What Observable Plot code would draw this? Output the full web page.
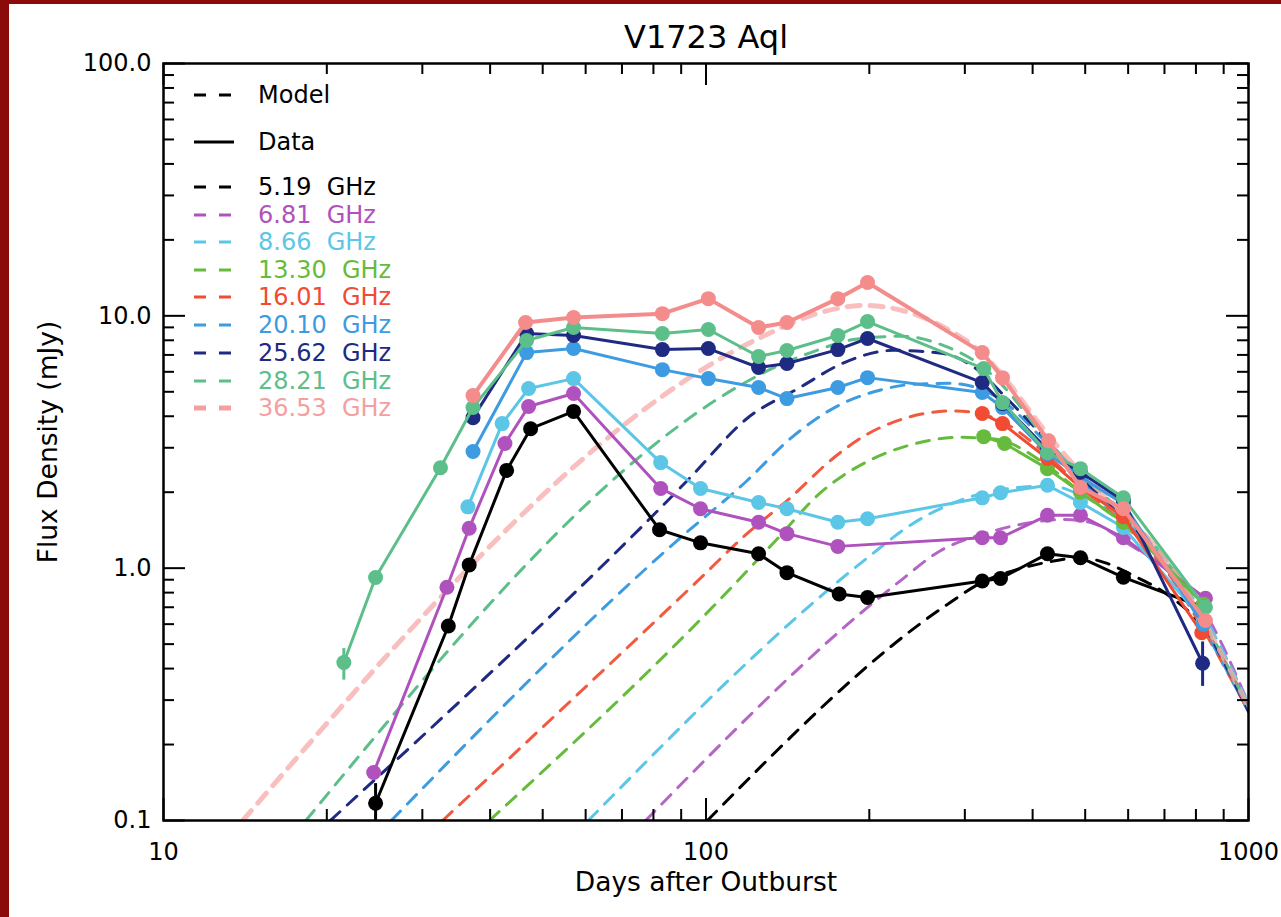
<!DOCTYPE html>
<html><head><meta charset="utf-8">
<script src="https://cdn.jsdelivr.net/npm/d3@7"></script>
<script src="https://cdn.jsdelivr.net/npm/@observablehq/plot@0.6"></script>
<style>
html,body{margin:0;padding:0;background:#fff;}
#wrap{position:relative;width:1281px;height:917px;overflow:hidden;font-family:"DejaVu Sans",sans-serif;background:#fff;}
.band{position:absolute;background:#8b0a0a;}
.row{position:absolute;left:194px;height:30px;display:flex;align-items:center;white-space:pre;font-size:24px;line-height:30px;}
.row svg{display:block;}
.row span{margin-left:22px;}
</style></head><body><div id="wrap"></div>
<script>
// ---- series labels & colours ----
const freqs = ["5.19  GHz", "6.81  GHz", "8.66  GHz", "13.30  GHz", "16.01  GHz", "20.10  GHz", "25.62  GHz", "28.21  GHz", "36.53  GHz"];
const colors = ["#000000", "#b052bd", "#5cc6e6", "#66bb3c", "#f14b34", "#3d9be1", "#1f2a82", "#5cbf8a", "#f48c8c"];
const modelColors = ["#000000", "#b366c4", "#5cc6e6", "#66bb3c", "#f25a40", "#3d9be1", "#1f2a82", "#5cbf8a", "#f7aaaa"];

// ---- observed data (days after outburst, flux density mJy) ----
const d519 = [24.6, 33.5, 36.6, 42.9, 47.5, 57.0, 82.1, 97.7, 125, 141, 176, 198.5, 323, 349, 426, 490, 588, 826];
const f519 = [0.117, 0.59, 1.03, 2.44, 3.57, 4.18, 1.42, 1.26, 1.14, 0.96, 0.79, 0.765, 0.89, 0.91, 1.14, 1.10, 0.92, 0.70];
const d681 = [24.4, 33.3, 36.6, 42.6, 47.1, 57.0, 82.5, 97.7, 125, 141, 175, 323, 349, 426, 490, 588, 833];
const f681 = [0.155, 0.84, 1.44, 3.12, 4.37, 4.92, 2.07, 1.72, 1.52, 1.37, 1.22, 1.32, 1.32, 1.62, 1.62, 1.32, 0.76];
const d866 = [36.4, 42.1, 47.1, 57.0, 82.5, 97.7, 125, 141, 175, 198.5, 323, 349, 426, 490, 588, 826];
const f866 = [1.75, 3.74, 5.15, 5.64, 2.62, 2.07, 1.82, 1.72, 1.52, 1.57, 1.90, 1.99, 2.13, 1.82, 1.45, 0.62];
const d1330 = [325, 355, 426, 490, 588, 826];
const f1330 = [3.32, 3.12, 2.48, 2.0, 1.52, 0.72];
const d1601 = [323, 352, 426, 490, 588, 820];
const f1601 = [4.10, 3.74, 2.72, 2.09, 1.6, 0.555];
const d2010 = [37.2, 46.7, 57.0, 83.1, 101, 125, 141, 175, 198.5, 323, 352, 426, 490, 588, 826];
const f2010 = [2.90, 7.15, 7.42, 6.12, 5.64, 5.20, 4.70, 5.20, 5.69, 4.97, 4.33, 2.85, 2.3, 1.8, 0.6];
const d2562 = [37.2, 46.7, 57.0, 83.1, 101, 125, 141, 175, 198.5, 323, 352, 426, 490, 588, 823];
const f2562 = [3.95, 8.51, 8.36, 7.35, 7.42, 6.24, 6.47, 7.35, 8.13, 5.44, 4.49, 2.95, 2.4, 1.85, 0.42];
const d2821 = [21.5, 24.6, 32.4, 37.2, 46.7, 57.0, 83.1, 101, 125, 141, 175, 198.5, 325, 352, 426, 490, 588, 833];
const f2821 = [0.423, 0.918, 2.50, 4.33, 7.98, 8.99, 8.51, 8.83, 6.90, 7.29, 8.36, 9.49, 6.18, 4.53, 2.87, 2.48, 1.90, 0.70];
const d3653 = [37.2, 46.5, 57.0, 83.1, 101, 125, 141, 175, 198.5, 323, 352, 428, 490, 588, 833];
const f3653 = [4.83, 9.41, 9.85, 10.2, 11.7, 8.99, 9.41, 11.7, 13.55, 7.15, 5.69, 3.20, 2.09, 1.72, 0.62];

// ---- error bars ----
const errSeries = [0, 7, 6];
const errDays = [24.6, 21.5, 823];
const errLo = [0.08, 0.36, 0.34];
const errHi = [0.14, 0.48, 0.51];

// ---- model curves (days, flux) ----
const md519 = [100.6, 279, 323, 370, 430, 490, 545, 610, 700, 826, 1000];
const mf519 = [0.1, 0.72, 0.88, 0.98, 1.06, 1.1, 1.05, 0.94, 0.8, 0.58, 0.28];
const md681 = [77.4, 225, 270, 330, 400, 460, 520, 600, 700, 826, 1000];
const mf681 = [0.1, 0.87, 1.17, 1.38, 1.52, 1.56, 1.5, 1.25, 1.0, 0.68, 0.29];
const md866 = [60.7, 198.5, 238, 303, 370, 430, 490, 588, 700, 826, 1000];
const mf866 = [0.1, 1.1, 1.48, 1.9, 2.08, 2.12, 1.95, 1.55, 1.1, 0.65, 0.29];
const md1330 = [39.9, 106, 135, 163, 198.5, 241, 294, 340, 426, 490, 588, 700, 826, 1000];
const mf1330 = [0.1, 0.75, 1.3, 2.0, 2.65, 3.1, 3.3, 3.25, 2.55, 2.0, 1.5, 1.05, 0.6, 0.28];
const md1601 = [32.7, 96.5, 119, 143, 172, 198.5, 235, 285, 320, 352, 426, 490, 588, 700, 826, 1000];
const mf1601 = [0.1, 0.89, 1.37, 1.9, 2.74, 3.4, 3.95, 4.2, 4.1, 3.8, 2.8, 2.1, 1.5, 1.0, 0.57, 0.27];
const md2010 = [26.3, 89.7, 119, 143, 175, 204, 240, 280, 323, 352, 426, 490, 588, 700, 826, 1000];
const mf2010 = [0.1, 1.32, 2.22, 3.26, 4.4, 5.0, 5.35, 5.4, 5.1, 4.6, 3.1, 2.25, 1.55, 1.05, 0.58, 0.27];
const md2562 = [20.3, 93.6, 119, 149, 179, 222, 272, 323, 352, 426, 490, 588, 700, 826, 1000];
const mf2562 = [0.1, 2.29, 3.92, 5.2, 6.5, 7.3, 7.1, 5.9, 4.9, 3.2, 2.3, 1.6, 1.05, 0.6, 0.27];
const md2821 = [18.3, 156, 190, 230, 275, 323, 352, 426, 490, 588, 700, 826, 1000];
const mf2821 = [0.1, 7.15, 8.1, 8.3, 7.6, 6.3, 5.3, 3.2, 2.35, 1.65, 1.1, 0.62, 0.28];
const md3653 = [14.0, 126, 160, 195, 230, 280, 323, 352, 426, 490, 588, 700, 826, 1000];
const mf3653 = [0.1, 8.2, 10.2, 11.0, 10.5, 8.8, 7.1, 5.8, 3.4, 2.4, 1.65, 1.1, 0.62, 0.28];

// ---- axis ticks ----
const xMajor = [10, 100, 1000];
const xMinor = [20, 30, 40, 50, 60, 70, 80, 90, 200, 300, 400, 500, 600, 700, 800, 900];
const yMajor = [0.1, 1, 10, 100];
const yMinor = [0.2, 0.3, 0.4, 0.5, 0.6, 0.7, 0.8, 0.9, 2, 3, 4, 5, 6, 7, 8, 9, 20, 30, 40, 50, 60, 70, 80, 90];

// ---- text ----
const titleText = "V1723 Aql";
const xLabel = "Days after Outburst";
const yLabel = "Flux Density (mJy)";

const obsDays = [d519, d681, d866, d1330, d1601, d2010, d2562, d2821, d3653];
const obsFlux = [f519, f681, f866, f1330, f1601, f2010, f2562, f2821, f3653];
const modDays = [md519, md681, md866, md1330, md1601, md2010, md2562, md2821, md3653];
const modFlux = [mf519, mf681, mf866, mf1330, mf1601, mf2010, mf2562, mf2821, mf3653];

const rows = (ds, fs) => ds.map((d, i) => ({day: d, flux: fs[i]}));

const WIDTH = 1281, HEIGHT = 917;
const mL = 163, mR = 33, mT = 63, mB = 97;
const FW = WIDTH - mL - mR, FH = HEIGHT - mT - mB;

const marks = [];
// models
modDays.forEach((ds, k) => {
  marks.push(Plot.line(rows(ds, modFlux[k]), {
    x: "day", y: "flux", stroke: modelColors[k],
    strokeWidth: k === 8 ? 5 : 3, strokeOpacity: k === 8 ? 0.75 : 1,
    strokeDasharray: "13,10", curve: "monotone-x", clip: true
  }));
});
// data
obsDays.forEach((ds, k) => {
  const r = rows(ds, obsFlux[k]);
  marks.push(Plot.line(r, {x: "day", y: "flux", stroke: colors[k], strokeWidth: k === 8 ? 4 : 3, clip: true}));
  const e = errSeries.map((s, i) => s === k ? {day: errDays[i], lo: errLo[i], hi: errHi[i]} : null).filter(Boolean);
  if (e.length) marks.push(Plot.ruleX(e, {x: "day", y1: "lo", y2: "hi", stroke: colors[k], strokeWidth: 3, clip: true}));
  marks.push(Plot.dot(r, {x: "day", y: "flux", fill: colors[k], r: 7.5, clip: true}));
});
// inward ticks on all four sides
marks.push(
  Plot.ruleX(xMajor, {insetTop: FH - 22, strokeWidth: 2}),
  Plot.ruleX(xMajor, {insetBottom: FH - 22, strokeWidth: 2}),
  Plot.ruleX(xMinor, {insetTop: FH - 11, strokeWidth: 2}),
  Plot.ruleX(xMinor, {insetBottom: FH - 11, strokeWidth: 2}),
  Plot.ruleY(yMajor, {insetRight: FW - 22, strokeWidth: 2}),
  Plot.ruleY(yMajor, {insetLeft: FW - 22, strokeWidth: 2}),
  Plot.ruleY(yMinor, {insetRight: FW - 11, strokeWidth: 2}),
  Plot.ruleY(yMinor, {insetLeft: FW - 11, strokeWidth: 2}),
  Plot.frame({stroke: "#000", strokeWidth: 2.5}),
  Plot.text([titleText], {text: d => d, frameAnchor: "top", dy: -38, fontSize: 32}),
  Plot.text([xLabel], {text: d => d, frameAnchor: "bottom", dy: 70, fontSize: 26.5}),
  Plot.text([yLabel], {text: d => d, frameAnchor: "left", textAnchor: "middle", dx: -115, rotate: -90, fontSize: 26.5})
);

const chart = Plot.plot({
  width: WIDTH, height: HEIGHT,
  marginLeft: mL, marginRight: mR, marginTop: mT, marginBottom: mB,
  style: {fontFamily: "DejaVu Sans", fontSize: "24px", color: "#000", background: "transparent", overflow: "visible"},
  x: {type: "log", domain: [10, 1000], ticks: xMajor, tickSize: 0, tickPadding: 22, tickFormat: d => String(d), label: null},
  y: {type: "log", domain: [0.1, 100], ticks: yMajor, tickSize: 0, tickPadding: 12, tickFormat: d3.format(".1f"), label: null},
  marks
});

const wrap = document.getElementById("wrap");
wrap.appendChild(chart);
chart.style.position = "absolute";
chart.style.left = "0px";
chart.style.top = "0px";

// red frame strips
const bandLeft = document.createElement("div"); bandLeft.className = "band";
Object.assign(bandLeft.style, {left: "0px", top: "0px", width: "9px", height: HEIGHT + "px"});
const bandTop = document.createElement("div"); bandTop.className = "band";
Object.assign(bandTop.style, {left: "0px", top: "0px", width: WIDTH + "px", height: "4px"});
wrap.appendChild(bandLeft); wrap.appendChild(bandTop);

// legend
const legendItems = [{label: "Model", color: "#000", dash: "12,13", w: 3}, {label: "Data", color: "#000", dash: null, w: 3}]
  .concat(freqs.map((f, k) => ({label: f, color: k === 8 ? "#f4a0a0" : colors[k], dash: "12,13", w: k === 8 ? 5 : 3})));
const legendY = [95, 142, 187, 215, 242, 270, 297, 325, 353, 381, 408];
legendItems.forEach((it, i) => {
  const row = document.createElement("div");
  row.className = "row";
  row.style.top = (legendY[i] - 15) + "px";
  row.innerHTML = `<svg width="42" height="12"><line x1="0" y1="6" x2="40" y2="6" stroke="${it.color}" stroke-width="${it.w}" ${it.dash ? `stroke-dasharray="${it.dash}"` : ""}/></svg><span style="color:${it.color}">${it.label}</span>`;
  wrap.appendChild(row);
});
</script></body></html>
